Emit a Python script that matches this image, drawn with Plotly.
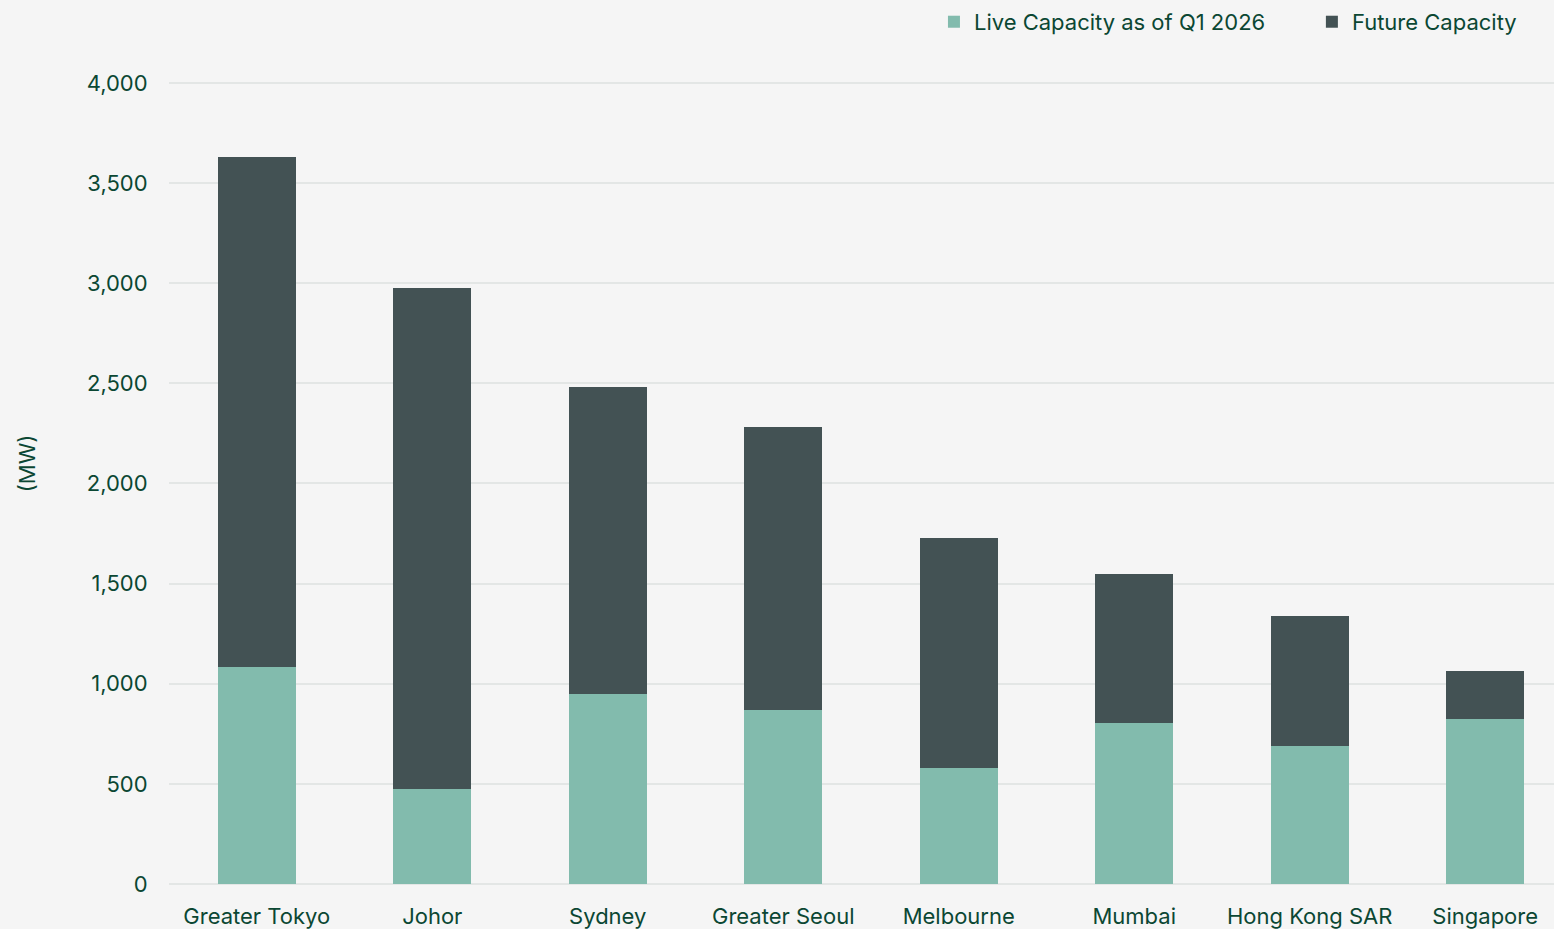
import plotly.graph_objects as go

markets = ["Greater Tokyo", "Johor", "Sydney", "Greater Seoul", "Melbourne",
           "Mumbai", "Hong Kong SAR", "Singapore"]
live = [1086, 473, 951, 867, 578, 802, 687, 822]
total = [3631, 2974, 2481, 2281, 1729, 1549, 1340, 1066]
future = [t - l for t, l in zip(total, live)]

TEXT = "#0b4733"
BG = "#f5f5f5"
FONT = "Inter"
FS = 22

fig = go.Figure()
fig.add_trace(go.Bar(x=markets, y=live, name="Live Capacity as of Q1 2026",
                     marker=dict(color="#82bbad", line=dict(width=0)), width=0.444,
                     legend="legend", showlegend=True))
fig.add_trace(go.Bar(x=markets, y=future, name="Future Capacity",
                     marker=dict(color="#435254", line=dict(width=0)), width=0.444,
                     legend="legend2", showlegend=True))

leg_common = dict(orientation="h", xanchor="left", y=0.999, yanchor="top",
                  xref="container", yref="container",
                  font=dict(size=FS, color=TEXT), itemwidth=30,
                  bgcolor="rgba(0,0,0,0)")

fig.update_layout(
    barmode="stack",
    showlegend=True,
    width=1554, height=929,
    paper_bgcolor=BG, plot_bgcolor=BG,
    font=dict(family=FONT, size=FS, color=TEXT),
    margin=dict(l=169, r=0, t=41, b=45),
    legend=dict(x=0.601, **leg_common),
    legend2=dict(x=0.8442, **leg_common),
)
fig.update_xaxes(range=[-0.5, 7.392], showgrid=False, ticks="outside", ticklen=13,
                 tickcolor="rgba(0,0,0,0)", showline=False, zeroline=False,
                 tickfont=dict(size=FS))
fig.update_yaxes(range=[0, 4200], tickvals=[0, 500, 1000, 1500, 2000, 2500, 3000, 3500, 4000],
                 tickformat=",", showgrid=True, gridcolor="#e3e6e5", gridwidth=2,
                 zeroline=True, zerolinecolor="#e3e6e5", zerolinewidth=2,
                 ticks="outside", ticklen=16, tickcolor="rgba(0,0,0,0)",
                 title=dict(text="(MW)", standoff=44, font=dict(size=FS)),
                 automargin=False, tickfont=dict(size=FS))

fig.write_html("out.html", config={"displayModeBar": False},
               post_script="document.body.style.margin='0';")
